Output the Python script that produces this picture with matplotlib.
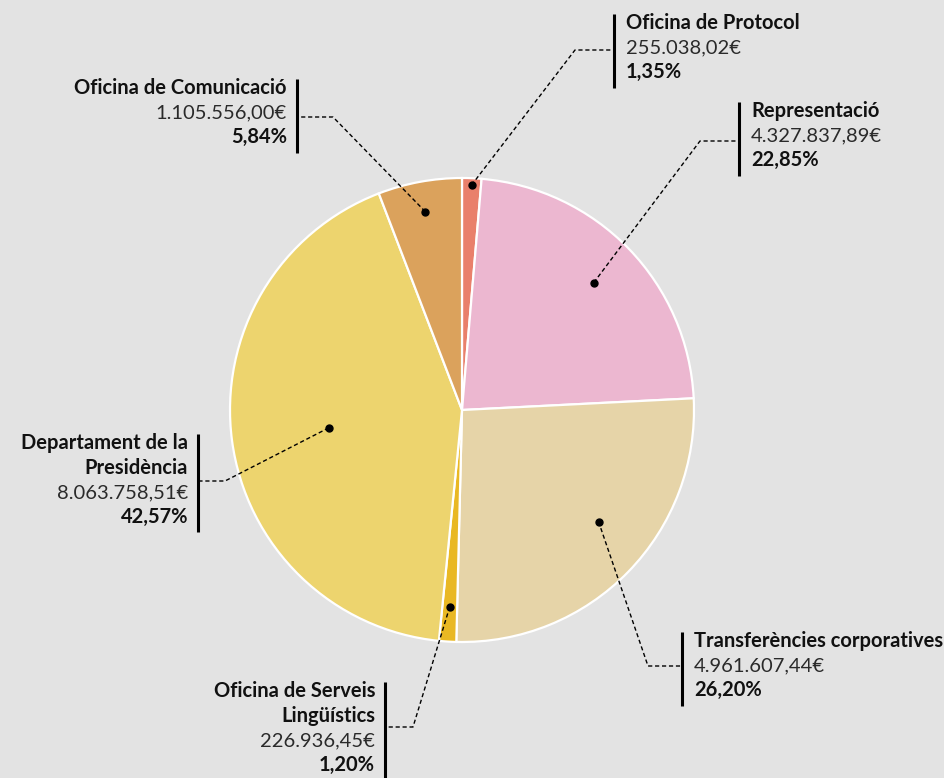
import matplotlib
matplotlib.use("Agg")
import matplotlib.pyplot as plt
import numpy as np

plt.rcParams['font.family'] = ['Lato', 'DejaVu Sans']

# dades
names = ['Oficina de Protocol', 'Representació', 'Transferències corporatives',
         'Oficina de Serveis\nLingüístics', 'Departament de la\nPresidència',
         'Oficina de Comunicació']
amounts = [255038.02, 4327837.89, 4961607.44, 226936.45, 8063758.51, 1105556.00]
colors = ['#e9806b', '#ecb7d0', '#e6d4a8', '#e9b823', '#edd46e', '#dba25c']

W, H = 945, 778
BG = '#e3e3e3'


def fmt_eur(v):
    s = f"{v:,.2f}"
    s = s.replace(',', 'X').replace('.', ',').replace('X', '.')
    return s + '€'


def fmt_pct(p):
    return f"{p:.2f}".replace('.', ',') + '%'


# layout of labels (pixel coords, y from top)
dot_r = [0.97, 0.79, 0.76, 0.85, 0.58, 0.87]
dot_shift = [0, 0, 5, 0, 0, 0]   # degrees
bar_x = [614, 739, 682, 385, 198, 297]
text_top = [12, 100, 630, 680, 432, 77]
elbow = [(575, 50), (700, 141), (648, 666), (413, 727), (225, 481), (333, 117)]
side = ['r', 'r', 'r', 'l', 'l', 'l']

fig = plt.figure(figsize=(W / 100, H / 100), dpi=100, facecolor=BG)
ax = fig.add_axes([0, 0, 1, 1])
ax.set_facecolor(BG)

cx, cy, R = 462, H - 410, 232
wedges, _ = ax.pie(amounts, colors=colors, startangle=90, counterclock=False,
                   center=(cx, cy), radius=R, frame=True,
                   wedgeprops=dict(edgecolor='white', linewidth=1.6))
ax.set_xlim(0, W)
ax.set_ylim(0, H)
ax.set_aspect('equal')
ax.axis('off')

total = sum(amounts)
pcts = [a / total * 100 for a in amounts]
LS = 24.5

for i, w in enumerate(wedges):
    ang = np.deg2rad((w.theta1 + w.theta2) / 2 + dot_shift[i])
    dx = cx + R * dot_r[i] * np.cos(ang)
    dy = cy + R * dot_r[i] * np.sin(ang)
    ex, ey = elbow[i][0], H - elbow[i][1]
    bx = bar_x[i]
    ax.plot([dx, ex, bx], [dy, ey, ey], color='black', lw=1, ls=(0, (3, 2)), zorder=5)
    ax.plot(dx, dy, 'o', color='black', ms=5, zorder=6)

    lines = [(l, 'bold') for l in names[i].split('\n')]
    lines.append((fmt_eur(amounts[i]), 'normal'))
    lines.append((fmt_pct(pcts[i]), 'bold'))
    top = H - text_top[i]
    n = len(lines)
    ax.plot([bx, bx], [top - 2, top - n * LS - 2], color='black', lw=2.2,
            solid_capstyle='butt', zorder=5)
    if side[i] == 'r':
        tx, ha = bx + 12, 'left'
    else:
        tx, ha = bx - 10, 'right'
    for j, (txt, wt) in enumerate(lines):
        ax.text(tx, top - j * LS - 17, txt, ha=ha, va='baseline', fontsize=14.5,
                fontweight=wt, color='#111111' if wt == 'bold' else '#2a2a2a')

fig.savefig('out.png', dpi=100, facecolor=BG)
